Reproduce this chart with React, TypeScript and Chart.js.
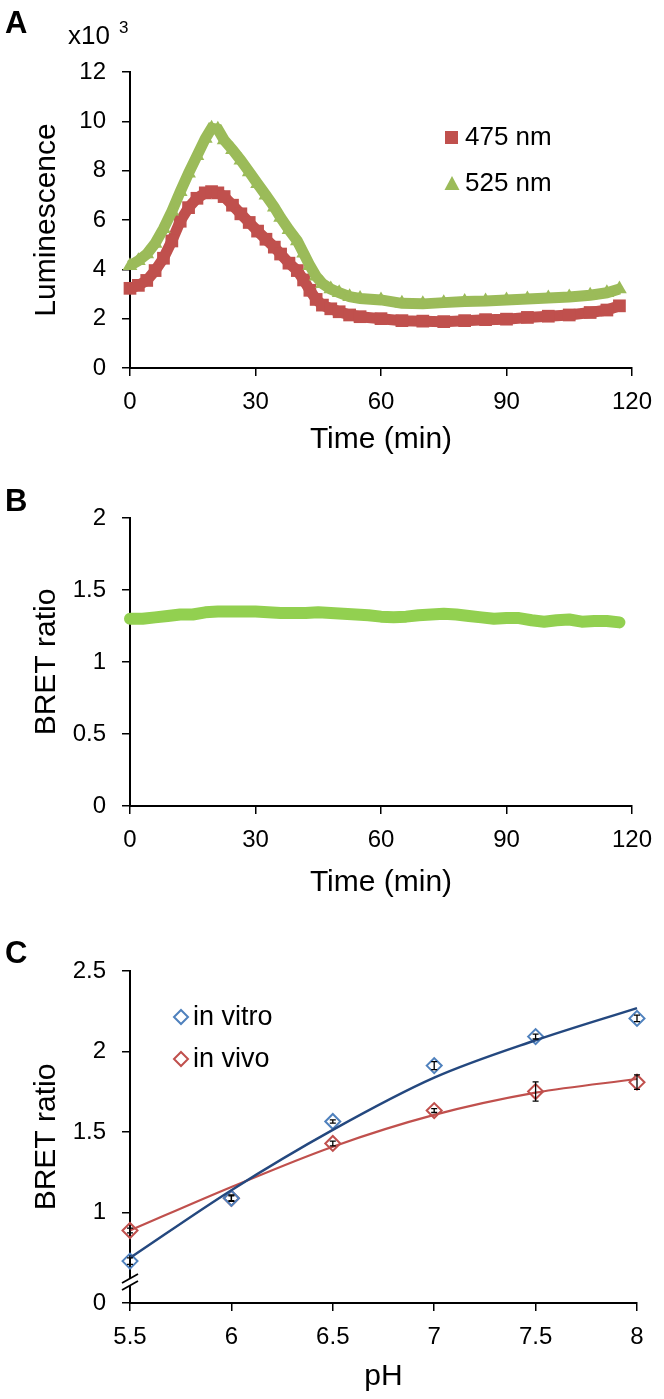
import React, { useEffect, useRef } from 'react';
import { Chart, registerables } from 'chart.js';

Chart.register(...registerables);

const FONT = '"Liberation Sans", Arial, Helvetica, sans-serif';

// ---------- Panel A : luminescence (x10^3) ----------
const timeA = [0, 2, 4, 6, 8, 10, 12, 14, 16, 18, 19.5, 21, 22.5, 24.5, 26.5, 28.5, 30.5, 32.5, 34.5, 36, 38, 40, 41.5, 43, 44.5, 46, 48, 50, 52.5, 55, 60, 65, 70, 75, 80, 85, 90, 95, 100, 105, 110, 114, 117];
const lum475 = [3.23, 3.35, 3.55, 3.95, 4.45, 5.15, 5.95, 6.5, 6.88, 7.1, 7.15, 7.1, 6.95, 6.6, 6.25, 5.9, 5.55, 5.22, 4.9, 4.62, 4.25, 3.95, 3.57, 3.15, 2.78, 2.55, 2.4, 2.28, 2.15, 2.08, 2.0, 1.92, 1.9, 1.88, 1.92, 1.96, 1.98, 2.05, 2.1, 2.15, 2.25, 2.35, 2.52];
const lum525 = [4.15, 4.35, 4.62, 5.05, 5.65, 6.35, 7.15, 7.9, 8.6, 9.3, 9.72, 9.68, 9.24, 8.85, 8.42, 7.95, 7.47, 7.0, 6.52, 6.1, 5.6, 5.15, 4.65, 4.15, 3.72, 3.42, 3.2, 3.05, 2.89, 2.82, 2.76, 2.62, 2.6, 2.65, 2.7, 2.72, 2.76, 2.8, 2.84, 2.88, 2.95, 3.05, 3.2];
const seriesALabels = ['475 nm', '525 nm'];

// ---------- Panel B : BRET ratio over time ----------
const timeB = [0, 3, 6, 9, 12, 15, 18, 21, 24, 27, 30, 33, 36, 39, 42, 45, 48, 51, 54, 57, 60, 63, 66, 69, 72, 75, 78, 81, 84, 87, 90, 93, 96, 99, 102, 105, 108, 111, 114, 117];
const bretB = [1.30, 1.30, 1.31, 1.32, 1.33, 1.33, 1.345, 1.35, 1.35, 1.35, 1.35, 1.345, 1.34, 1.34, 1.34, 1.345, 1.34, 1.335, 1.33, 1.325, 1.315, 1.31, 1.315, 1.325, 1.33, 1.335, 1.33, 1.32, 1.31, 1.30, 1.305, 1.305, 1.29, 1.28, 1.29, 1.295, 1.28, 1.285, 1.285, 1.275];

// ---------- Panel C : BRET ratio vs pH ----------
const phValues = [5.5, 6, 6.5, 7, 7.5, 8];
const vitro = [0.70, 1.09, 1.566, 1.913, 2.093, 2.206];
const vivo = [0.89, 1.09, 1.43, 1.634, 1.752, 1.81];
const vitroErr = [0.02, 0.015, 0.01, 0.025, 0.015, 0.02];
const vivoErr = [0.015, 0.02, 0.015, 0.012, 0.06, 0.045];
const vitroFit = [0.72, 1.14, 1.514, 1.838, 2.07, 2.27];
const vivoFit = [0.89, 1.16, 1.41, 1.607, 1.745, 1.83];
const seriesCLabels = ['in vitro', 'in vivo'];
const cTickValues = [1, 1.5, 2, 2.5];
const cAxisBottom = 0.44; // shown as "0" below the axis break

const RED = '#C0504D';
const GREEN_A = '#9BBB59';
const GREEN_B = '#92D050';
const BLUE_MK = '#4F81BD';
const BLUE_LN = '#24487F';

const tickFont = { size: 24, family: FONT };
const titleFont = { size: 30, family: FONT };

function axisX(min: number, max: number, step: number, title: string, height: number, titlePadBottom: number) {
  return {
    type: 'linear' as const,
    min,
    max,
    afterFit: (s: any) => { s.height = height; },
    afterBuildTicks: (s: any) => {
      const t = [];
      for (let v = min; v <= max + 1e-9; v += step) t.push({ value: Math.round(v * 100) / 100 });
      s.ticks = t;
    },
    ticks: { color: '#000', font: tickFont, padding: 12, maxRotation: 0, autoSkip: false, callback: (v: any) => String(v) },
    grid: { drawOnChartArea: false, drawTicks: true, tickLength: 8, color: '#000', lineWidth: 1.5 },
    border: { display: true, color: '#000', width: 2 },
    title: { display: true, text: title, color: '#000', font: titleFont, padding: { top: 0, bottom: titlePadBottom } },
  };
}

function axisY(min: number, max: number, ticks: number[], title: string, labelFn: (v: number) => string) {
  return {
    type: 'linear' as const,
    min,
    max,
    afterFit: (s: any) => { s.width = 130; },
    afterBuildTicks: (s: any) => { s.ticks = ticks.map((v) => ({ value: v })); },
    ticks: { color: '#000', font: tickFont, padding: 16, autoSkip: false, callback: (v: any) => labelFn(Number(v)) },
    grid: { drawOnChartArea: false, drawTicks: true, tickLength: 8, color: '#000', lineWidth: 1.5 },
    border: { display: true, color: '#000', width: 2 },
    title: { display: true, text: title, color: '#000', font: titleFont, padding: { top: 29, bottom: 0 } },
  };
}

function letter(ctx: CanvasRenderingContext2D, text: string, y: number) {
  ctx.save();
  ctx.font = `bold 31px ${FONT}`;
  ctx.fillStyle = '#000';
  ctx.textAlign = 'left';
  ctx.textBaseline = 'alphabetic';
  ctx.fillText(text, 5, y);
  ctx.restore();
}

const decorA = {
  id: 'decorA',
  afterDraw(chart: any) {
    const ctx = chart.ctx as CanvasRenderingContext2D;
    letter(ctx, 'A', 33);
    ctx.save();
    ctx.fillStyle = '#000';
    ctx.font = `26px ${FONT}`;
    ctx.textBaseline = 'alphabetic';
    ctx.fillText('x10', 68, 44);
    ctx.font = `17px ${FONT}`;
    ctx.fillText('3', 119, 33);
    // legend
    ctx.font = `26px ${FONT}`;
    ctx.textBaseline = 'middle';
    ctx.fillStyle = RED;
    ctx.fillRect(445, 131, 13, 13);
    ctx.fillStyle = GREEN_A;
    ctx.beginPath();
    ctx.moveTo(452, 176);
    ctx.lineTo(459.5, 190);
    ctx.lineTo(444.5, 190);
    ctx.closePath();
    ctx.fill();
    ctx.fillStyle = '#000';
    ctx.fillText(seriesALabels[0], 465, 138);
    ctx.fillText(seriesALabels[1], 465, 184);
    ctx.restore();
  },
};

const decorB = {
  id: 'decorB',
  afterDraw(chart: any) {
    letter(chart.ctx, 'B', 46);
  },
};

const decorC = {
  id: 'decorC',
  afterDatasetsDraw(chart: any) {
    const ctx = chart.ctx as CanvasRenderingContext2D;
    const xs = chart.scales.x;
    const ys = chart.scales.y;
    ctx.save();
    ctx.strokeStyle = '#000';
    ctx.lineWidth = 1.3;
    const bars = (vals: number[], errs: number[]) => {
      vals.forEach((v, i) => {
        const x = xs.getPixelForValue(phValues[i]);
        const y1 = ys.getPixelForValue(v - errs[i]);
        const y2 = ys.getPixelForValue(v + errs[i]);
        ctx.beginPath();
        ctx.moveTo(x, y1); ctx.lineTo(x, y2);
        ctx.moveTo(x - 3, y1); ctx.lineTo(x + 3, y1);
        ctx.moveTo(x - 3, y2); ctx.lineTo(x + 3, y2);
        ctx.stroke();
      });
    };
    bars(vitro, vitroErr);
    bars(vivo, vivoErr);
    ctx.restore();
  },
  afterDraw(chart: any) {
    const ctx = chart.ctx as CanvasRenderingContext2D;
    letter(ctx, 'C', 38);
    const ax = chart.chartArea.left;
    const yc = 358;
    ctx.save();
    // axis break
    ctx.fillStyle = '#fff';
    ctx.beginPath();
    ctx.moveTo(ax - 8, yc + 0);
    ctx.lineTo(ax + 8, yc - 9);
    ctx.lineTo(ax + 8, yc - 2);
    ctx.lineTo(ax - 8, yc + 7);
    ctx.closePath();
    ctx.fill();
    ctx.strokeStyle = '#000';
    ctx.lineWidth = 1.8;
    ctx.beginPath();
    ctx.moveTo(ax - 8, yc + 0); ctx.lineTo(ax + 8, yc - 9);
    ctx.moveTo(ax - 8, yc + 7); ctx.lineTo(ax + 8, yc - 2);
    ctx.stroke();
    // legend
    const drawDiamond = (cx: number, cy: number, col: string) => {
      ctx.strokeStyle = col;
      ctx.lineWidth = 2;
      ctx.beginPath();
      ctx.moveTo(cx, cy - 7); ctx.lineTo(cx + 7, cy); ctx.lineTo(cx, cy + 7); ctx.lineTo(cx - 7, cy);
      ctx.closePath();
      ctx.stroke();
    };
    drawDiamond(181, 92, BLUE_MK);
    drawDiamond(181, 134, RED);
    ctx.fillStyle = '#000';
    ctx.font = `27px ${FONT}`;
    ctx.textBaseline = 'middle';
    ctx.fillText(seriesCLabels[0], 193, 93);
    ctx.fillText(seriesCLabels[1], 193, 135);
    ctx.restore();
  },
};

export default function App() {
  const refA = useRef<HTMLCanvasElement>(null);
  const refB = useRef<HTMLCanvasElement>(null);
  const refC = useRef<HTMLCanvasElement>(null);

  useEffect(() => {
    Chart.defaults.font.family = FONT;
    const common = { animation: false as const, responsive: false, devicePixelRatio: 1 };
    const noPlug = { legend: { display: false }, tooltip: { enabled: false } };

    const chartA = new Chart(refA.current!, {
      type: 'line',
      data: {
        datasets: [
          {
            label: seriesALabels[1],
            data: timeA.map((t, i) => ({ x: t, y: lum525[i] })),
            borderColor: GREEN_A, backgroundColor: GREEN_A, borderWidth: 11,
            pointStyle: 'triangle', pointRadius: 8.5, pointBorderWidth: 0, order: 0, clip: false,
          },
          {
            label: seriesALabels[0],
            data: timeA.map((t, i) => ({ x: t, y: lum475[i] })),
            borderColor: RED, backgroundColor: RED, borderWidth: 11,
            pointStyle: 'rect', pointRadius: 9, pointBorderWidth: 0, order: 1, clip: false,
          },
        ],
      },
      options: {
        ...common,
        layout: { padding: { top: 72, right: 27, bottom: 2, left: 0 } },
        plugins: noPlug,
        scales: {
          x: axisX(0, 120, 30, 'Time (min)', 95, 5),
          y: axisY(0, 12, [0, 2, 4, 6, 8, 10, 12], 'Luminescence', (v) => String(v)),
        },
      } as any,
      plugins: [decorA],
    });

    const chartB = new Chart(refB.current!, {
      type: 'line',
      data: {
        datasets: [
          {
            label: 'BRET ratio',
            data: timeB.map((t, i) => ({ x: t, y: bretB[i] })),
            borderColor: GREEN_B, backgroundColor: GREEN_B, borderWidth: 12,
            borderCapStyle: 'round', borderJoinStyle: 'round', pointRadius: 0, clip: false,
          },
        ],
      },
      options: {
        ...common,
        layout: { padding: { top: 53, right: 27, bottom: 19, left: 0 } },
        plugins: noPlug,
        scales: {
          x: axisX(0, 120, 30, 'Time (min)', 100, 5),
          y: axisY(0, 2, [0, 0.5, 1, 1.5, 2], 'BRET ratio', (v) => String(v)),
        },
      } as any,
      plugins: [decorB],
    });

    const chartC = new Chart(refC.current!, {
      type: 'line',
      data: {
        datasets: [
          {
            label: seriesCLabels[0] + ' fit',
            data: phValues.map((p, i) => ({ x: p, y: vitroFit[i] })),
            borderColor: BLUE_LN, borderWidth: 2.5, pointRadius: 0, cubicInterpolationMode: 'monotone', clip: false,
          },
          {
            label: seriesCLabels[1] + ' fit',
            data: phValues.map((p, i) => ({ x: p, y: vivoFit[i] })),
            borderColor: RED, borderWidth: 2.2, pointRadius: 0, cubicInterpolationMode: 'monotone', clip: false,
          },
          {
            label: seriesCLabels[0],
            data: phValues.map((p, i) => ({ x: p, y: vitro[i] })),
            showLine: false, pointStyle: 'rectRot', pointRadius: 7.5, clip: false,
            pointBorderColor: BLUE_MK, pointBorderWidth: 2, pointBackgroundColor: 'rgba(255,255,255,0)',
          },
          {
            label: seriesCLabels[1],
            data: phValues.map((p, i) => ({ x: p, y: vivo[i] })),
            showLine: false, pointStyle: 'rectRot', pointRadius: 7.5, clip: false,
            pointBorderColor: RED, pointBorderWidth: 2, pointBackgroundColor: 'rgba(255,255,255,0)',
          },
        ],
      },
      options: {
        ...common,
        layout: { padding: { top: 46, right: 27, bottom: 0, left: 0 } },
        plugins: noPlug,
        scales: {
          x: axisX(5.5, 8, 0.5, 'pH', 96, 4),
          y: axisY(cAxisBottom, 2.5, [cAxisBottom, ...cTickValues], 'BRET ratio', (v) => (v === cAxisBottom ? '0' : String(v))),
        },
      } as any,
      plugins: [decorC],
    });

    return () => {
      chartA.destroy();
      chartB.destroy();
      chartC.destroy();
    };
  }, []);

  return (
    <div style={{ position: 'absolute', left: 0, top: 0, width: 664, height: 1399, background: '#fff' }}>
      <canvas ref={refA} width={664} height={465} style={{ position: 'absolute', left: 0, top: 0, width: 664, height: 465 }} />
      <canvas ref={refB} width={664} height={460} style={{ position: 'absolute', left: 0, top: 465, width: 664, height: 460 }} />
      <canvas ref={refC} width={664} height={474} style={{ position: 'absolute', left: 0, top: 925, width: 664, height: 474 }} />
    </div>
  );
}
